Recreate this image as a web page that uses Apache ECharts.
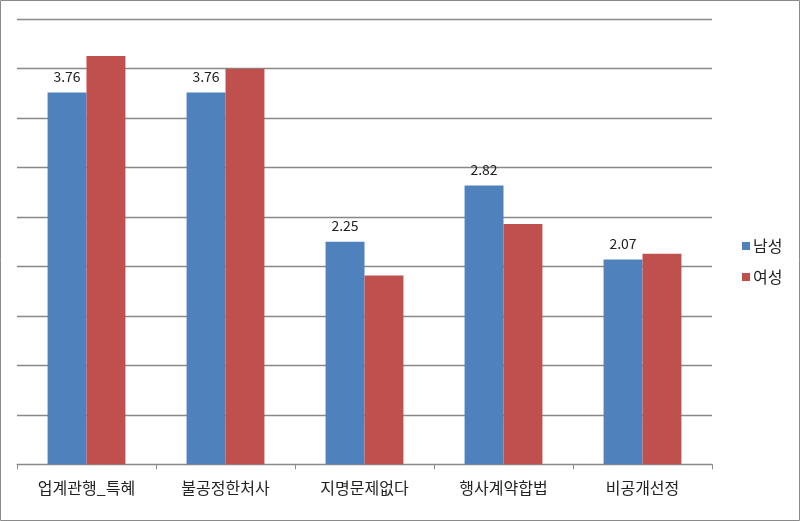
<!DOCTYPE html>
<html>
<head>
<meta charset="utf-8">
<script src="https://cdn.jsdelivr.net/npm/echarts@6/dist/echarts.min.js"></script>
<style>
html,body{margin:0;padding:0;background:#fff;}
#chart{width:800px;height:521px;}
</style>
</head>
<body>
<div id="chart"></div>
<script>
const categories = ['업계관행_특혜', '불공정한처사', '지명문제없다', '행사계약합법', '비공개선정'];
const seriesNames = ['남성', '여성'];
const maleValues = [3.76, 3.76, 2.25, 2.82, 2.07];
const femaleValues = [4.13, 4.00, 1.91, 2.43, 2.13];

const chart = echarts.init(document.getElementById('chart'));
const font = '"Noto Sans CJK KR", "Noto Sans", sans-serif';
chart.setOption({
  animation: false,
  backgroundColor: '#fff',
  textStyle: { fontFamily: font },
  graphic: [{
    type: 'rect',
    shape: { x: 0.5, y: 0.5, width: 799, height: 520 },
    style: { fill: 'none', stroke: '#8a8a8a', lineWidth: 1 },
    silent: true
  }],
  grid: { left: 17, right: 88, top: 19.3, bottom: 56.7 },
  legend: {
    orient: 'vertical',
    left: 737,
    top: 233,
    icon: 'rect',
    itemWidth: 8,
    itemHeight: 8,
    itemGap: 15,
    textStyle: { fontSize: 16, color: '#222', fontFamily: font, padding: [0, 0, 0, -2] },
    data: seriesNames
  },
  xAxis: {
    type: 'category',
    data: categories,
    axisLine: { lineStyle: { color: '#8a8a8a', width: 1 } },
    axisTick: { show: true, length: 5, lineStyle: { color: '#8a8a8a' } },
    axisLabel: { fontSize: 16, color: '#222', margin: 16, fontFamily: font }
  },
  yAxis: {
    type: 'value',
    min: 0,
    max: 4.5,
    interval: 0.5,
    axisLabel: { show: false },
    axisLine: { show: false },
    axisTick: { show: false },
    splitLine: { lineStyle: { color: '#888888', width: 1.3 } }
  },
  series: [
    {
      name: seriesNames[0],
      type: 'bar',
      data: maleValues,
      itemStyle: { color: '#4F81BD' },
      barGap: '0%',
      barCategoryGap: '44%',
      label: {
        show: true,
        position: 'top',
        distance: 9,
        fontSize: 14,
        color: '#222',
        fontFamily: font,
        formatter: p => p.value.toFixed(2)
      }
    },
    {
      name: seriesNames[1],
      type: 'bar',
      data: femaleValues,
      itemStyle: { color: '#C0504D' },
      barGap: '0%',
      barCategoryGap: '44%'
    }
  ]
});
</script>
</body>
</html>
